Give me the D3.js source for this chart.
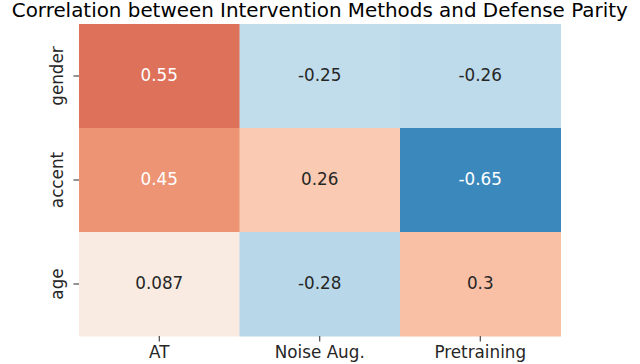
<!DOCTYPE html>
<html>
<head>
<meta charset="utf-8">
<script src="https://cdn.jsdelivr.net/npm/d3@7"></script>
<style>
  html, body { margin: 0; padding: 0; background: #fff; }
  svg { display: block; }
  text { font-family: "DejaVu Sans", sans-serif; }
</style>
</head>
<body>
<svg id="chart" width="640" height="364"></svg>
<script>
const title = "Correlation between Intervention Methods and Defense Parity";
const methods = ["AT", "Noise Aug.", "Pretraining"];
const attributes = ["gender", "accent", "age"];
const genderValues = [0.55, -0.25, -0.26];
const accentValues = [0.45, 0.26, -0.65];
const ageValues = [0.087, -0.28, 0.3];
const valueLabels = [["0.55", "-0.25", "-0.26"], ["0.45", "0.26", "-0.65"], ["0.087", "-0.28", "0.3"]];
const rdbuR = ["#053061", "#2166ac", "#4393c3", "#92c5de", "#d1e5f0", "#f7f7f7",
               "#fddbc7", "#f4a582", "#d6604d", "#b2182b", "#67001f"];

const rows = [genderValues, accentValues, ageValues];
const cells = [];
rows.forEach((vals, r) => vals.forEach((v, c) => cells.push({
  row: attributes[r], col: methods[c], value: v, label: valueLabels[r][c]
})));

const svg = d3.select("#chart");
const mLeft = 79, mRight = 560.5, mTop = 24, mBottom = 336;

const x = d3.scaleBand().domain(methods).range([mLeft, mRight]).padding(0);
const y = d3.scaleBand().domain(attributes).range([mTop, mBottom]).padding(0);
const color = d3.scaleLinear()
  .domain(d3.range(11).map(i => -1 + i * 0.2))
  .range(rdbuR)
  .interpolate(d3.interpolateRgb)
  .clamp(true);

function luminance(c) {
  const rgb = d3.rgb(c);
  const lin = v => { v /= 255; return v <= 0.03928 ? v / 12.92 : Math.pow((v + 0.055) / 1.055, 2.4); };
  return 0.2126 * lin(rgb.r) + 0.7152 * lin(rgb.g) + 0.0722 * lin(rgb.b);
}

svg.append("g").selectAll("rect").data(cells).join("rect")
  .attr("x", d => x(d.col))
  .attr("y", d => y(d.row))
  .attr("width", x.bandwidth() + 0.5)
  .attr("height", y.bandwidth() + 0.5)
  .attr("fill", d => color(d.value));

svg.append("g").selectAll("text").data(cells).join("text")
  .attr("x", d => x(d.col) + x.bandwidth() / 2)
  .attr("y", d => y(d.row) + y.bandwidth() / 2)
  .attr("dy", "0.3em")
  .attr("text-anchor", "middle")
  .attr("font-size", "16.8px")
  .attr("fill", d => luminance(color(d.value)) > 0.408 ? "#262626" : "#ffffff")
  .text(d => d.label);

// X axis
const xAxis = svg.append("g")
  .attr("transform", `translate(0,${mBottom})`)
  .call(d3.axisBottom(x).tickSize(5.5).tickPadding(8));
xAxis.select(".domain").remove();
xAxis.selectAll(".tick line").attr("stroke", "#262626").attr("stroke-width", 1);
xAxis.selectAll(".tick text")
  .attr("font-size", "16.8px")
  .attr("font-family", "DejaVu Sans, sans-serif")
  .attr("fill", "#262626")
  .attr("dy", null)
  .attr("y", 22);

// Y axis
const yAxis = svg.append("g")
  .attr("transform", `translate(${mLeft},0)`)
  .call(d3.axisLeft(y).tickSize(5.5));
yAxis.select(".domain").remove();
yAxis.selectAll(".tick line").attr("stroke", "#262626").attr("stroke-width", 1);
yAxis.selectAll(".tick text")
  .attr("font-size", "16.8px")
  .attr("font-family", "DejaVu Sans, sans-serif")
  .attr("fill", "#262626")
  .attr("x", null).attr("dy", null)
  .attr("text-anchor", "middle")
  .attr("transform", "translate(-16,0) rotate(-90)");

svg.append("text")
  .attr("x", (mLeft + mRight) / 2)
  .attr("y", 16.5)
  .attr("text-anchor", "middle")
  .attr("font-size", "19.9px")
  .attr("fill", "#000")
  .text(title);
</script>
</body>
</html>
